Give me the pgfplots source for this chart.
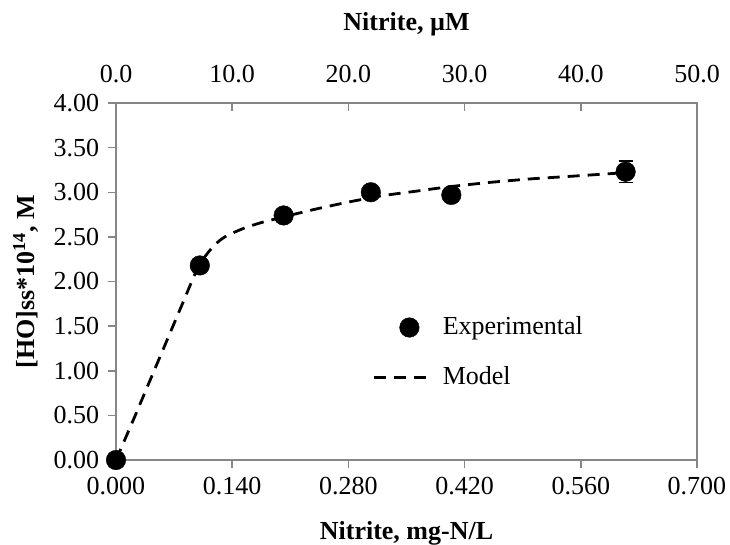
\documentclass[border=0pt]{standalone}
\usepackage{pgfplots}
\pgfplotsset{compat=1.18}
\usepackage{fontspec}
\setmainfont{Liberation Serif}
\definecolor{axgray}{HTML}{868686}
\pgfplotsset{
  expimg/.style={legend image code/.code={\draw[##1] plot coordinates {(35pt,0pt)};}},
  modimg/.style={legend image code/.code={\draw[##1] (0pt,0pt) -- (57pt,0pt);}},
}
\begin{document}
\fontsize{26}{31}\selectfont
\begin{tikzpicture}[x=1pt,y=1pt]
\useasboundingbox (-116,-84) rectangle (614,460);
\begin{axis}[
  at={(0,0)}, anchor=south west,
  scale only axis, width=581pt, height=357pt,
  xmin=0, xmax=0.7, ymin=0, ymax=4,
  xtick={0,0.14,0.28,0.42,0.56,0.7},
  ytick={0,0.5,1,1.5,2,2.5,3,3.5,4},
  tick pos=left, tick align=outside,
  major tick length=8pt,
  every tick/.style={axgray, line width=1.5pt},
  axis line style={axgray, line width=1.5pt},
  /pgf/number format/assume math mode=true,
  x tick label style={/pgf/number format/.cd, fixed, fixed zerofill, precision=3, /tikz/.cd, font=\fontsize{26}{31}\selectfont},
  y tick label style={/pgf/number format/.cd, fixed, fixed zerofill, precision=2, /tikz/.cd, font=\fontsize{26}{31}\selectfont},
  scaled ticks=false,
  xlabel={\textbf{Nitrite, mg-N/L}},
  ylabel={\textbf{[HO]ss*10\textsuperscript{14}, M}},
  label style={font=\fontsize{26}{31}\selectfont},
  xlabel style={yshift=-9pt},
  ylabel style={yshift=-2pt},
  legend style={draw=none, fill=none, at={(0.442,0.408)}, anchor=north west,
    font=\fontsize{26}{31}\selectfont, row sep=24pt, inner sep=0pt,
    cells={anchor=west}},
  clip=false,
]
\addplot[only marks, mark=*, mark size=9.8pt, black, expimg,
  error bars/.cd, y dir=both, y explicit,
  error bar style={black, line width=1.5pt},
  error mark options={rotate=90, mark size=7pt, line width=1.5pt, black}]
  table[x=x, y=y, y error=e] {
x y e
0.000 0.00 0.00
0.101 2.18 0.05
0.202 2.74 0.06
0.307 3.00 0.05
0.404 2.97 0.05
0.614 3.23 0.12
};
\addlegendentry{\hspace{8pt}Experimental}
\addplot[black, line width=2.8pt, dash pattern=on 12pt off 8pt, smooth, tension=0.4, modimg]
  coordinates {
(0.000,0.00) (0.020,0.43) (0.040,0.87) (0.060,1.31) (0.080,1.75) (0.095,2.08)
(0.105,2.25) (0.115,2.37) (0.125,2.46) (0.135,2.52) (0.155,2.60) (0.175,2.66)
(0.200,2.72) (0.240,2.81) (0.280,2.89) (0.320,2.96) (0.360,3.01) (0.400,3.06)
(0.450,3.11) (0.500,3.15) (0.550,3.18) (0.614,3.22)
};
\addlegendentry{\hspace{8pt}Model}
\end{axis}
\begin{axis}[
  at={(0,0)}, anchor=south west,
  scale only axis, width=581pt, height=357pt,
  xmin=0, xmax=50, ymin=0, ymax=4,
  axis x line*=top, hide y axis,
  xtick={0,10,20,30,40,50},
  tick align=inside, major tick length=8pt,
  every tick/.style={axgray, line width=1.5pt},
  axis line style={axgray, line width=1.5pt},
  /pgf/number format/assume math mode=true,
  x tick label style={/pgf/number format/.cd, fixed, fixed zerofill, precision=1, /tikz/.cd, font=\fontsize{26}{31}\selectfont, yshift=11pt},
  scaled ticks=false,
  xlabel={\textbf{Nitrite, µM}},
  label style={font=\fontsize{26}{31}\selectfont},
  xlabel style={yshift=12pt},
]
\addplot[draw=none] coordinates {(0,0) (50,4)};
\end{axis}
\end{tikzpicture}
\end{document}
